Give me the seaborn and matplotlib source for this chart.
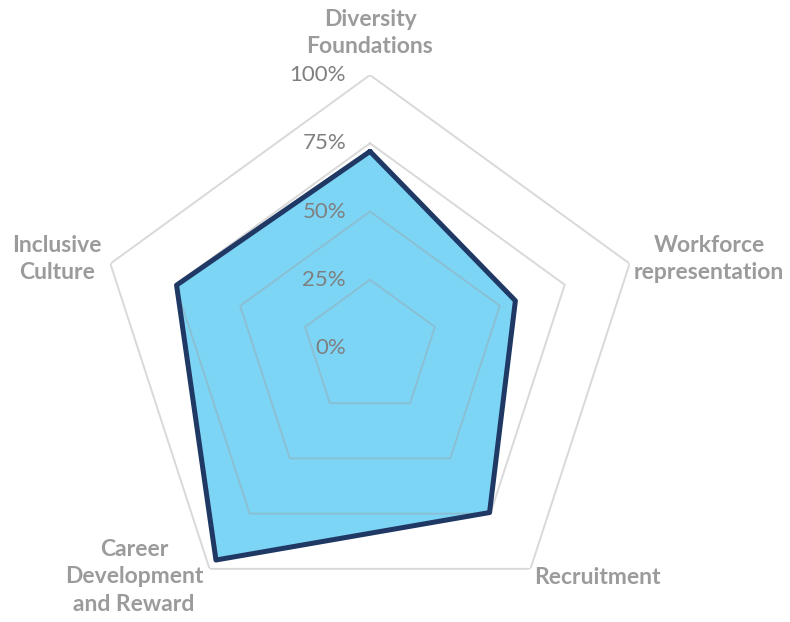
import numpy as np
import matplotlib
matplotlib.use("Agg")
import matplotlib.pyplot as plt
import seaborn as sns
import pandas as pd

categories = ["Diversity\nFoundations", "Workforce\nrepresentation", "Recruitment",
              "Career\nDevelopment\nand Reward", "Inclusive\nCulture"]
scores = [0.72, 0.56, 0.745, 0.96, 0.745]
ring_levels = [0.25, 0.50, 0.75, 1.00]
tick_labels = ["0%", "25%", "50%", "75%", "100%"]

sns.set_theme(style="white")
plt.rcParams["font.family"] = ["Lato", "DejaVu Sans"]

W, H = 790, 622
fig = plt.figure(figsize=(W / 100, H / 100), dpi=100)
cx, cy, R = 370, 348, 273
ax = fig.add_axes([(cx - R) / W, (H - cy - R) / H, 2 * R / W, 2 * R / H], projection="polar")
ax.set_theta_zero_location("N")
ax.set_theta_direction(-1)
ax.set_ylim(0, 1)
ax.grid(False)
ax.spines["polar"].set_visible(False)
ax.patch.set_alpha(0)

n = len(categories)
angles = np.linspace(0, 2 * np.pi, n, endpoint=False)
closed_angles = np.append(angles, angles[0])

# data polygon
df = pd.DataFrame({"theta": closed_angles, "r": scores + scores[:1]})
ax.fill(df["theta"], df["r"], color="#7DD5F6", zorder=2, linewidth=0)

# ring gridlines (drawn on top with transparency)
for lv in ring_levels:
    ax.plot(closed_angles, [lv] * (n + 1), color="#A0A0A0", alpha=0.4, linewidth=1.4, zorder=3)

sns.lineplot(data=df, x="theta", y="r", sort=False, estimator=None, ax=ax,
             color="#1F3864", linewidth=3.6, zorder=4)
ax.set_xlabel("")
ax.set_ylabel("")
ax.set_xticks([])
ax.set_yticks([])

# radial tick labels
for lv, lab in zip([0.0] + ring_levels, tick_labels):
    ax.annotate(lab, xy=(0, lv), xytext=(-24, 0), textcoords="offset pixels",
                ha="right", va="center", fontsize=16, color="#7F7F7F", zorder=5)

# category labels
label_pos = [(0.5, 1.077), (1.121, 0.663), (0.916, 0.079), (0.068, 0.081), (-0.073, 0.663)]
for lab, (x, y) in zip(categories, label_pos):
    ax.text(x, y, lab, transform=ax.transAxes, ha="center", va="center", fontsize=16.5,
            fontweight="bold", color="#9B9B9B", linespacing=1.38, clip_on=False)

fig.savefig("out.png", dpi=100, facecolor="white")
